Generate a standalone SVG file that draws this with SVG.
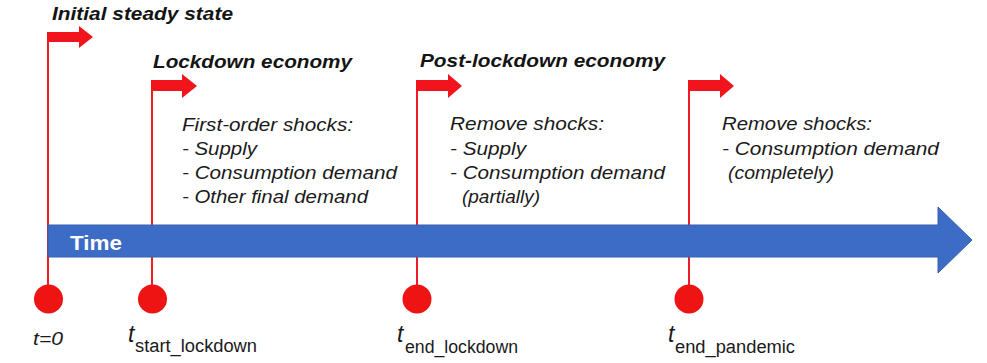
<svg xmlns="http://www.w3.org/2000/svg" width="987" height="363" viewBox="0 0 987 363">
  <style>
    .hdr { font-family: "Liberation Sans", Arial, sans-serif; font-size: 18.5px; font-weight: bold; font-style: italic; fill: #141414; }
    .body { font-family: "Liberation Sans", Arial, sans-serif; font-size: 18.5px; font-style: italic; fill: #1a1a1a; }
    .tmain { font-family: "Liberation Sans", Arial, sans-serif; font-size: 23px; font-style: italic; fill: #1a1a1a; }
    .tsub { font-family: "Liberation Sans", Arial, sans-serif; font-size: 18px; fill: #1a1a1a; }
    .time { font-family: "Liberation Sans", Arial, sans-serif; font-size: 20px; font-weight: bold; fill: #ffffff; }
    .stem { stroke: #ee1c24; stroke-width: 2; fill: none; }
    .flag { fill: #f2141c; }
    .dot { fill: #ee1414; }
  </style>

  <rect width="987" height="363" fill="#ffffff"/>

  <!-- event stems, drawn beneath the time axis -->
  <g id="connectors">
    <line class="stem" x1="48" y1="32" x2="48" y2="290"/>
    <line class="stem" x1="152" y1="80" x2="152" y2="290"/>
    <line class="stem" x1="417" y1="80" x2="417" y2="290"/>
    <line class="stem" x1="689" y1="80" x2="689" y2="290"/>
  </g>

  <!-- time axis -->
  <g id="time-axis">
    <path d="M48,225 H938 V207 L972,240 L938,273 V257 H48 Z" fill="#3d6cc6" stroke="#3561b4" stroke-width="1"/>
    <text class="time" x="70" y="250" textLength="52" lengthAdjust="spacingAndGlyphs">Time</text>
  </g>

  <!-- initial steady state -->
  <g id="initial">
    <path class="flag" d="M47,32 H79 V26 L93,37 L79,48 V42 H47 Z"/>
    <text class="hdr" x="52" y="20" textLength="181" lengthAdjust="spacingAndGlyphs">Initial steady state</text>
    <circle class="dot" cx="48.5" cy="299" r="14.5"/>
    <text class="body" x="33" y="345" textLength="30" lengthAdjust="spacingAndGlyphs">t=0</text>
  </g>

  <!-- lockdown economy -->
  <g id="lockdown">
    <path class="flag" d="M151,80 H182 V74 L197,86 L182,98 V91 H151 Z"/>
    <text class="hdr" x="153" y="68" textLength="199" lengthAdjust="spacingAndGlyphs">Lockdown economy</text>
    <text class="body" x="182" y="131" textLength="171" lengthAdjust="spacingAndGlyphs">First-order shocks:</text>
    <text class="body" x="182" y="155" textLength="75" lengthAdjust="spacingAndGlyphs">- Supply</text>
    <text class="body" x="182" y="179" textLength="215" lengthAdjust="spacingAndGlyphs">- Consumption demand</text>
    <text class="body" x="182" y="203" textLength="186" lengthAdjust="spacingAndGlyphs">- Other final demand</text>
    <circle class="dot" cx="152.5" cy="299" r="14.5"/>
    <text x="128" y="342" class="tmain">t</text>
    <text class="tsub" x="135" y="352" textLength="122" lengthAdjust="spacingAndGlyphs">start_lockdown</text>
  </g>

  <!-- post-lockdown economy -->
  <g id="post-lockdown">
    <path class="flag" d="M416,80 H448 V74 L462,86 L448,98 V91 H416 Z"/>
    <text class="hdr" x="420" y="67" textLength="245" lengthAdjust="spacingAndGlyphs">Post-lockdown economy</text>
    <text class="body" x="450" y="130" textLength="154" lengthAdjust="spacingAndGlyphs">Remove shocks:</text>
    <text class="body" x="450" y="155" textLength="76" lengthAdjust="spacingAndGlyphs">- Supply</text>
    <text class="body" x="450" y="179" textLength="215" lengthAdjust="spacingAndGlyphs">- Consumption demand</text>
    <text class="body" x="462" y="203" textLength="78" lengthAdjust="spacingAndGlyphs">(partially)</text>
    <circle class="dot" cx="417" cy="299" r="14.5"/>
    <text x="397" y="342" class="tmain">t</text>
    <text class="tsub" x="405" y="353" textLength="113" lengthAdjust="spacingAndGlyphs">end_lockdown</text>
  </g>

  <!-- end of pandemic -->
  <g id="end-pandemic">
    <path class="flag" d="M688,80 H720 V74 L734,86 L720,98 V91 H688 Z"/>
    <text class="body" x="722" y="130" textLength="150" lengthAdjust="spacingAndGlyphs">Remove shocks:</text>
    <text class="body" x="722" y="155" textLength="217" lengthAdjust="spacingAndGlyphs">- Consumption demand</text>
    <text class="body" x="728" y="179" textLength="106" lengthAdjust="spacingAndGlyphs">(completely)</text>
    <circle class="dot" cx="689" cy="299" r="14.5"/>
    <text x="668" y="342" class="tmain">t</text>
    <text class="tsub" x="675" y="353" textLength="120" lengthAdjust="spacingAndGlyphs">end_pandemic</text>
  </g>
</svg>
